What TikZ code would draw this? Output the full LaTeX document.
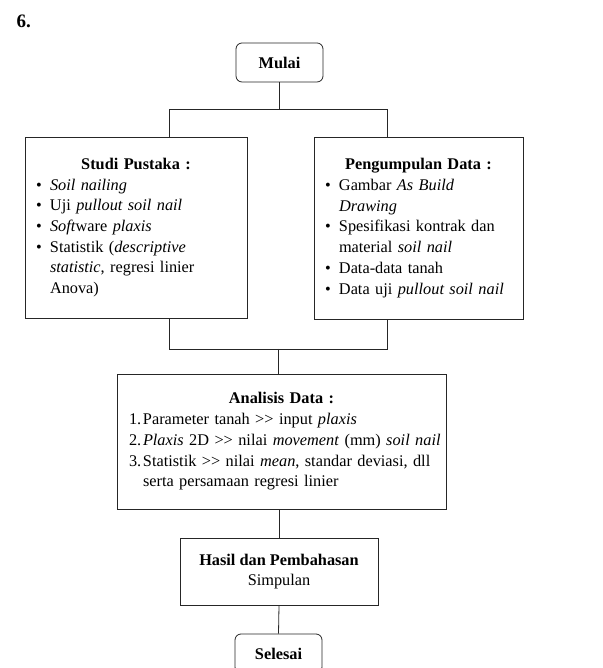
\documentclass[tikz,border=0pt]{standalone}
\usepackage{fontspec}
\setmainfont{Liberation Serif}
\usepackage{tikz}
\usetikzlibrary{positioning,calc}

\newcommand{\isi}{\fontsize{16.3pt}{20.7pt}\selectfont}
\newcommand{\judul}[1]{{\centering\textbf{#1}\par}}
\newcommand{\butir}[1]{\par\noindent\hangindent=14pt\hangafter=1\makebox[14pt][l]{\textbullet}#1\par}
\newcommand{\nomor}[2]{\par\noindent\hangindent=14pt\hangafter=1\makebox[14pt][l]{#1.}#2\par}
\newcommand{\lebihdari}{\textgreater\kern0pt\textgreater}

\begin{document}
\begin{tikzpicture}[x=1pt,y=1pt,
    line/.style={draw=black!85, line width=0.8pt},
    terminal/.style={line, rectangle, rounded corners=6pt, minimum width=87pt, minimum height=39pt, font=\isi\bfseries},
    proses/.style={line, rectangle, inner xsep=11pt, inner ysep=2pt, align=left, font=\isi}
]
    \useasboundingbox (0,0) rectangle (602,668);

    \node[anchor=base west, font=\fontsize{19pt}{23pt}\selectfont\bfseries] (nomorbab) at (13,640) {6.};

    \node[terminal] (mulai) at (279.5,605.5) {Mulai};

    \node[proses, text width=200pt, minimum height=181pt] (studi) at (136,440.5) {%
        \judul{Studi Pustaka :}
        \butir{\textit{Soil nailing}}
        \butir{Uji \textit{pullout soil nail}}
        \butir{\textit{Soft}ware \textit{plaxis}}
        \butir{Statistik (\textit{descriptive}\newline \textit{statistic}, regresi linier\newline Anova)}};
    \node[proses, text width=187pt, minimum height=182pt] (data) at (418.5,440) {%
        \judul{Pengumpulan Data :}
        \butir{Gambar \textit{As Build}\newline \textit{Drawing}}
        \butir{Spesifikasi kontrak dan\newline material \textit{soil nail}}
        \butir{Data-data tanah}
        \butir{Data uji \textit{pullout soil nail}}};

    \node[proses, text width=305pt, inner xsep=12pt, minimum height=135pt] (analisis) at (281.5,226.5) {%
        \judul{Analisis Data :}
        \nomor{1}{Parameter tanah \lebihdari{} input \textit{plaxis}}
        \nomor{2}{\mbox{\textit{Plaxis} 2D \lebihdari{} nilai \textit{movement} (mm) \textit{soil nail}}}
        \nomor{3}{Statistik \lebihdari{} nilai \textit{mean}, standar deviasi, dll\newline serta persamaan regresi linier}};

    \node[line, rectangle, align=center, minimum width=198pt, minimum height=67pt, font=\isi] (hasil) at (279,96.5) {\textbf{Hasil dan Pembahasan}\\Simpulan};

    \node[terminal] (selesai) at (278.5,14.5) {Selesai};

    % percabangan
    \coordinate (cabangkiri) at (169,559);
    \coordinate (cabangkanan) at (387,559);
    \coordinate (gabungkiri) at (169,319);
    \coordinate (gabungkanan) at (387,319);
    \coordinate (gabung) at (278,319);

    \draw[line] (mulai.south) -- (mulai.south |- cabangkiri);
    \draw[line] (studi.north -| cabangkiri) -- (cabangkiri) -- (cabangkanan) -- (data.north -| cabangkanan);
    \draw[line] (studi.south -| gabungkiri) -- (gabungkiri) -- (gabungkanan) -- (data.south -| gabungkanan);
    \draw[line] (gabung) -- (gabung |- analisis.north);
    \draw[line] (analisis.south -| hasil.north) -- (hasil.north);
    \draw[line] (hasil.south) -- (selesai.north);
\end{tikzpicture}
\end{document}
